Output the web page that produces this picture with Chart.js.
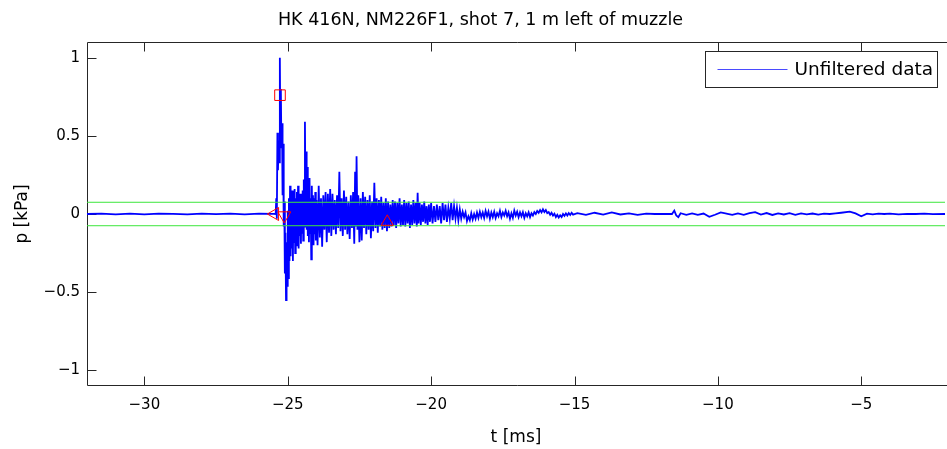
<!DOCTYPE html>
<html>
<head>
<meta charset="utf-8">
<script src="https://cdn.jsdelivr.net/npm/chart.js@4"></script>
<style>
  html, body { margin: 0; padding: 0; background: #fff; }
  #contenedor { width: 947px; height: 449px; }
</style>
</head>
<body>
<div id="contenedor"><canvas id="graficoPresion"></canvas></div>
<script>
// Datos: tiempo en ms, presión en kPa
const quietT = [-32.0, -31.5, -31.0, -30.5, -30.0, -29.5, -29.0, -28.5, -28.0, -27.5, -27.0, -26.5, -26.0, -25.5, -25.42];
const quietP = [0.000, 0.003, -0.002, 0.002, -0.003, 0.002, 0.001, -0.002, 0.003, -0.001, 0.002, -0.003, 0.002, 0.001, 0.000];

const burstT = [
  -25.40, -25.38, -25.36, -25.34, -25.32, -25.30, -25.28, -25.27, -25.26, -25.24,
  -25.22, -25.20, -25.18, -25.16, -25.14, -25.12, -25.10, -25.08, -25.06, -25.04,
  -25.02, -25.00, -24.98, -24.96, -24.94, -24.92, -24.90, -24.88, -24.86, -24.84,
  -24.82, -24.80, -24.78, -24.76, -24.74, -24.72, -24.70, -24.68, -24.66, -24.64,
  -24.62, -24.60, -24.58, -24.56, -24.54, -24.52, -24.50, -24.48, -24.46, -24.44,
  -24.42, -24.40, -24.38, -24.36, -24.34, -24.32, -24.30, -24.28, -24.26, -24.24,
  -24.22, -24.20, -24.18, -24.16, -24.14, -24.12, -24.10, -24.08, -24.06, -24.04,
  -24.02, -24.00
];
const burstP = [
  0.10, -0.03, 0.52, 0.28, 0.47, 0.33, 0.72, 1.00, 0.60, 0.80,
  0.42, 0.58, 0.12, 0.45, -0.08, 0.08, -0.38, -0.12, -0.55, -0.18,
  -0.46, 0.02, -0.41, 0.10, -0.30, 0.18, -0.27, 0.08, -0.22, 0.15,
  -0.30, 0.12, -0.18, 0.16, -0.25, 0.10, -0.20, 0.14, -0.16, 0.18,
  -0.22, 0.09, -0.14, 0.13, -0.19, 0.08, -0.12, 0.15, -0.17, 0.22,
  -0.08, 0.59, 0.05, 0.40, -0.10, 0.30, -0.14, 0.12, -0.18, 0.23,
  -0.12, 0.10, -0.29, 0.18, -0.15, 0.12, -0.20, 0.10, -0.13, 0.14,
  -0.17, 0.09
];

const decayT = [
  -23.96, -23.92, -23.88, -23.84, -23.80, -23.76, -23.72, -23.68, -23.64, -23.60,
  -23.56, -23.52, -23.48, -23.44, -23.40, -23.36, -23.32, -23.28, -23.24, -23.20,
  -23.16, -23.12, -23.08, -23.04, -23.00, -22.96, -22.92, -22.88, -22.84, -22.80,
  -22.76, -22.72, -22.68, -22.65, -22.62, -22.60, -22.57, -22.54, -22.50, -22.46,
  -22.42, -22.38, -22.34, -22.30, -22.26, -22.22, -22.18, -22.14, -22.10, -22.06,
  -22.02, -21.98, -21.94, -21.90, -21.86, -21.82, -21.78, -21.74, -21.70, -21.66,
  -21.62, -21.58, -21.54, -21.50, -21.46, -21.42, -21.38, -21.34, -21.30, -21.26,
  -21.22, -21.18, -21.14, -21.10, -21.06, -21.02, -20.98, -20.94, -20.90, -20.86,
  -20.82, -20.78, -20.74, -20.70, -20.66, -20.62, -20.58, -20.54, -20.50, -20.47,
  -20.44, -20.40, -20.36, -20.32, -20.28, -20.24, -20.20, -20.16, -20.12, -20.08,
  -20.04, -20.00, -19.95, -19.90, -19.85, -19.80, -19.75, -19.70, -19.65, -19.60,
  -19.55, -19.50, -19.45, -19.40, -19.35, -19.30, -19.25, -19.20, -19.15, -19.10,
  -19.05, -19.00
];
const decayP = [
  -0.20, 0.18, -0.15, 0.10, -0.21, 0.12, -0.10, 0.14, -0.18, 0.13,
  -0.12, 0.16, -0.14, 0.13, -0.10, 0.09, -0.13, 0.12, -0.09, 0.27,
  -0.11, 0.10, -0.14, 0.15, -0.10, 0.11, -0.13, 0.08, -0.16, 0.12,
  -0.09, 0.14, -0.19, 0.27, -0.08, 0.37, -0.10, 0.12, -0.18, 0.10,
  -0.17, 0.14, -0.09, 0.11, -0.13, 0.09, -0.10, 0.12, -0.155, 0.08,
  -0.11, 0.20, -0.09, 0.10, -0.12, 0.09, -0.08, 0.11, -0.10, 0.07,
  -0.09, 0.10, -0.11, 0.08, -0.09, 0.06, -0.08, 0.09, -0.07, 0.08,
  -0.09, 0.07, -0.06, 0.10, -0.08, 0.06, -0.07, 0.09, -0.08, 0.07,
  -0.06, 0.08, -0.09, 0.06, -0.07, 0.09, -0.06, 0.07, -0.08, 0.135,
  -0.06, 0.07, -0.07, 0.06, -0.05, 0.08, -0.06, 0.05, -0.07, 0.06,
  -0.05, 0.07, -0.06, 0.05, -0.05, 0.06, -0.04, 0.05, -0.06, 0.07,
  -0.04, 0.06, -0.05, 0.04, -0.03, 0.07, -0.04, 0.05, -0.03, 0.04,
  -0.04, 0.03
];

const ringT = [
  -18.95, -18.90, -18.85, -18.80, -18.75, -18.70, -18.65, -18.60, -18.55, -18.50,
  -18.45, -18.40, -18.35, -18.30, -18.25, -18.20, -18.15, -18.10, -18.05, -18.00,
  -17.95, -17.90, -17.85, -17.80, -17.75, -17.70, -17.65, -17.60, -17.55, -17.50,
  -17.45, -17.40, -17.35, -17.30, -17.25, -17.20, -17.15, -17.10, -17.05, -17.00,
  -16.95, -16.90, -16.85, -16.80, -16.75, -16.70, -16.65, -16.60, -16.55, -16.50,
  -16.45, -16.40, -16.35, -16.30, -16.25, -16.20, -16.15, -16.10, -16.05, -16.00,
  -15.95, -15.90, -15.85, -15.80, -15.75, -15.70, -15.65, -15.60, -15.55, -15.50,
  -15.45, -15.40, -15.35, -15.30, -15.25, -15.20, -15.15, -15.10, -15.05
];
const ringP = [
  -0.030, 0.015, -0.020, 0.010, -0.045, -0.015, -0.040, 0.005, -0.035, 0.000,
  -0.030, 0.010, -0.025, 0.015, -0.020, 0.010, -0.025, 0.020, -0.015, 0.015,
  -0.030, 0.010, -0.020, 0.015, -0.025, 0.005, -0.015, 0.020, -0.020, 0.010,
  -0.010, 0.020, -0.015, 0.010, -0.030, 0.005, -0.025, 0.022, -0.010, 0.015,
  -0.020, 0.010, -0.015, 0.012, -0.025, 0.005, -0.015, 0.010, -0.020, 0.005,
  -0.010, 0.012, 0.000, 0.020, 0.008, 0.025, 0.010, 0.030, 0.012, 0.025,
  0.005, 0.012, -0.005, 0.008, -0.010, 0.002, -0.020, -0.005, -0.022, -0.008,
  -0.020, 0.000, -0.012, 0.004, -0.010, 0.006, -0.006, 0.008, -0.004
];

const tailT = [
  -14.90, -14.60, -14.30, -14.00, -13.70, -13.40, -13.10, -12.80, -12.50, -12.20,
  -11.90, -11.60, -11.52, -11.45, -11.38, -11.30, -11.10, -10.90, -10.70, -10.50,
  -10.30, -10.10, -9.90, -9.70, -9.50, -9.30, -9.10, -8.90, -8.70, -8.50,
  -8.30, -8.10, -7.90, -7.70, -7.50, -7.30, -7.10, -6.90, -6.70, -6.50,
  -6.30, -6.10, -5.90, -5.70, -5.40, -5.20, -5.00, -4.80, -4.60, -4.40,
  -4.20, -4.00, -3.70, -3.40, -3.10, -2.80, -2.50, -2.08
];
const tailP = [
  0.005, -0.005, 0.008, -0.004, 0.010, -0.003, 0.004, -0.005, 0.002, 0.000,
  0.001, 0.000, 0.022, -0.01, -0.02, 0.005, -0.005, 0.004, -0.006, 0.003,
  -0.018, -0.005, 0.010, 0.003, -0.006, 0.004, -0.005, 0.006, 0.012, -0.004,
  0.006, -0.006, 0.004, -0.003, 0.005, -0.005, 0.004, -0.002, 0.003, -0.004,
  0.002, 0.000, 0.004, 0.008, 0.015, 0.004, -0.015, 0.002, -0.002, 0.002,
  0.000, 0.002, -0.002, 0.001, 0.000, 0.002, -0.001, 0.000
];

// marcadores rojos (pico y llegadas)
const markerT = [-25.27, -25.45, -25.12, -21.53];
const markerP = [0.76, 0.00, -0.01, -0.05];

// umbrales verdes
const thresholdP = [0.075, -0.075];

// ejes
const xRange = [-32, -2.08];
const yRange = [-1.1, 1.1];
const xTickValues = [-30, -25, -20, -15, -10, -5];
const xTickLabels = ['\u221230', '\u221225', '\u221220', '\u221215', '\u221210', '\u22125'];
const yTickValues = [-1, -0.5, 0, 0.5, 1];
const yTickLabels = ['\u22121', '\u22120.5', '0', '0.5', '1'];

const TITULO = 'HK 416N, NM226F1, shot 7, 1 m left of muzzle';
const FUENTE = "'DejaVu Sans', 'Liberation Sans', sans-serif";

function toPoints(ts, ps) {
  return ts.map((t, i) => ({ x: t, y: ps[i] }));
}

const signal = [].concat(
  toPoints(quietT, quietP),
  toPoints(burstT, burstP),
  toPoints(decayT, decayP),
  toPoints(ringT, ringP),
  toPoints(tailT, tailP)
);

/* ============================================================
   Caja de ejes estilo MATLAB, título y leyenda
   ============================================================ */
const ejesMatlab = {
  id: 'ejesMatlab',
  beforeDatasetsDraw(chart) {
    const { ctx, chartArea: a, scales: { x, y } } = chart;
    const L = Math.round(a.left) + 0.5;
    const T = Math.round(a.top) + 0.5;
    const B = Math.round(a.bottom) - 0.5;
    const tick = 9;
    ctx.save();
    ctx.strokeStyle = '#262626';
    ctx.lineWidth = 1;
    ctx.beginPath();
    ctx.moveTo(chart.width, T); ctx.lineTo(L, T); ctx.lineTo(L, B); ctx.lineTo(chart.width, B);
    xTickValues.forEach(v => {
      const px = Math.round(x.getPixelForValue(v)) + 0.5;
      ctx.moveTo(px, B); ctx.lineTo(px, B - tick);
      ctx.moveTo(px, T); ctx.lineTo(px, T + tick);
    });
    yTickValues.forEach(v => {
      const py = Math.round(y.getPixelForValue(v)) + 0.5;
      ctx.moveTo(L, py); ctx.lineTo(L + tick, py);
    });
    ctx.stroke();

    // título
    ctx.fillStyle = '#000';
    ctx.font = "17.5px " + FUENTE;
    ctx.textAlign = 'center';
    ctx.textBaseline = 'middle';
    ctx.fillText(TITULO, 480.5, 20);
    ctx.restore();
  },
  afterDraw(chart) {
    const { ctx, chartArea: a } = chart;
    const bx = Math.round(a.right - 240) + 0.5;
    const by = Math.round(a.top + 10) - 0.5;
    const bw = 232, bh = 36;
    ctx.save();
    ctx.fillStyle = '#fff';
    ctx.fillRect(bx, by, bw, bh);
    ctx.strokeStyle = '#262626';
    ctx.lineWidth = 1;
    ctx.strokeRect(bx, by, bw, bh);
    ctx.strokeStyle = '#4a4aff';
    ctx.beginPath();
    ctx.moveTo(bx + 12, by + 18);
    ctx.lineTo(bx + 82, by + 18);
    ctx.stroke();
    ctx.fillStyle = '#000';
    ctx.font = "18.5px " + FUENTE;
    ctx.textBaseline = 'middle';
    ctx.textAlign = 'left';
    ctx.fillText('Unfiltered data', bx + 89, by + 18.5);
    ctx.restore();
  }
};

new Chart(document.getElementById('graficoPresion'), {
  type: 'line',
  data: {
    datasets: [
      {
        label: 'Unfiltered data',
        data: signal,
        borderColor: '#0000ff',
        borderWidth: 1.8,
        pointRadius: 0,
        tension: 0,
        order: 3
      },
      {
        label: 'upper',
        data: xRange.map(t => ({ x: t, y: thresholdP[0] })),
        borderColor: '#3ce63c',
        borderWidth: 1,
        pointRadius: 0,
        order: 2
      },
      {
        label: 'lower',
        data: xRange.map(t => ({ x: t, y: thresholdP[1] })),
        borderColor: '#3ce63c',
        borderWidth: 1,
        pointRadius: 0,
        order: 2
      },
      {
        label: 'markers',
        data: toPoints(markerT, markerP),
        showLine: false,
        borderColor: '#ff0000',
        backgroundColor: 'rgba(0,0,0,0)',
        borderWidth: 1,
        pointStyle: ['rect', 'triangle', 'triangle', 'triangle'],
        pointRotation: [0, -90, 180, 0],
        pointRadius: [7.5, 7.5, 7.5, 7],
        order: 1
      }
    ]
  },
  options: {
    responsive: true,
    maintainAspectRatio: false,
    animation: false,
    layout: { autoPadding: false, padding: { left: 0, right: 2, top: 42, bottom: 0 } },
    plugins: {
      legend: { display: false },
      tooltip: { enabled: false },
      title: { display: false }
    },
    scales: {
      x: {
        type: 'linear',
        min: xRange[0],
        max: xRange[1],
        afterBuildTicks: s => { s.ticks = xTickValues.map(v => ({ value: v })); },
        afterFit: s => { s.height = 63; s.paddingLeft = 0; s.paddingRight = 0; },
        grid: { display: false, drawTicks: false },
        border: { display: false },
        ticks: {
          color: '#000',
          padding: 10,
          maxRotation: 0,
          autoSkip: false,
          font: { family: FUENTE, size: 15 },
          callback: (v, i) => xTickLabels[i]
        },
        title: {
          display: true,
          text: 't [ms]',
          color: '#000',
          font: { family: FUENTE, size: 17 },
          padding: { top: 0, bottom: 1 }
        }
      },
      y: {
        type: 'linear',
        min: yRange[0],
        max: yRange[1],
        afterBuildTicks: s => { s.ticks = yTickValues.map(v => ({ value: v })); },
        afterFit: s => { s.width = 87; s.paddingTop = 0; s.paddingBottom = 0; },
        grid: { display: false, drawTicks: false },
        border: { display: false },
        ticks: {
          color: '#000',
          padding: 7,
          font: { family: FUENTE, size: 15 },
          callback: (v, i) => yTickLabels[i]
        },
        title: {
          display: true,
          text: 'p [kPa]',
          color: '#000',
          font: { family: FUENTE, size: 17 },
          padding: { top: 12, bottom: 0 }
        }
      }
    }
  },
  plugins: [ejesMatlab]
});
</script>
</body>
</html>
